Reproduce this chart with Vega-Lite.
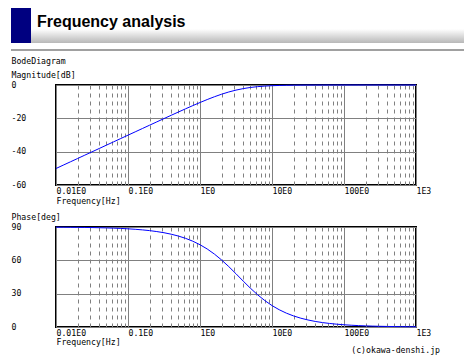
{
  "$schema": "https://vega.github.io/schema/vega-lite/v6.json",
  "padding": {"left": 10, "top": 8, "right": 0, "bottom": 0},
  "background": "white",
  "config": {
    "font": "DejaVu Sans Mono",
    "view": {"stroke": null},
    "axis": {
      "labelFont": "DejaVu Sans Mono", "labelFontSize": 8.2, "labelColor": "#000",
      "titleFont": "DejaVu Sans Mono", "titleFontSize": 8.2, "titleFontWeight": "normal", "titleColor": "#000",
      "ticks": false, "tickSize": 0, "domain": false,
      "gridColor": "#808080", "gridOpacity": 1, "gridWidth": 1
    },
    "title": {"font": "DejaVu Sans Mono", "fontSize": 8.2, "fontWeight": "normal", "color": "#000"}
  },
  "datasets": {
    "bode": [
      {"f": 0.01, "mag": -50.1, "phase": 89.84},
      {"f": 0.012589, "mag": -48.1, "phase": 89.79},
      {"f": 0.015849, "mag": -46.1, "phase": 89.74},
      {"f": 0.019953, "mag": -44.1, "phase": 89.67},
      {"f": 0.025119, "mag": -42.1, "phase": 89.59},
      {"f": 0.031623, "mag": -40.1, "phase": 89.48},
      {"f": 0.039811, "mag": -38.1, "phase": 89.35},
      {"f": 0.050119, "mag": -36.1, "phase": 89.18},
      {"f": 0.063096, "mag": -34.1, "phase": 88.97},
      {"f": 0.079433, "mag": -32.1, "phase": 88.71},
      {"f": 0.1, "mag": -30.1, "phase": 88.36},
      {"f": 0.12589, "mag": -28.11, "phase": 87.94},
      {"f": 0.15849, "mag": -26.11, "phase": 87.41},
      {"f": 0.19953, "mag": -24.12, "phase": 86.74},
      {"f": 0.25119, "mag": -22.13, "phase": 85.89},
      {"f": 0.31623, "mag": -20.14, "phase": 84.84},
      {"f": 0.39811, "mag": -18.17, "phase": 83.51},
      {"f": 0.50119, "mag": -16.21, "phase": 81.85},
      {"f": 0.63096, "mag": -14.27, "phase": 79.78},
      {"f": 0.79433, "mag": -12.36, "phase": 77.21},
      {"f": 1, "mag": -10.51, "phase": 74.05},
      {"f": 1.2589, "mag": -8.73, "phase": 70.22},
      {"f": 1.5849, "mag": -7.05, "phase": 65.63},
      {"f": 1.9953, "mag": -5.53, "phase": 60.31},
      {"f": 2.5119, "mag": -4.19, "phase": 54.33},
      {"f": 3.1623, "mag": -3.06, "phase": 47.9},
      {"f": 3.9811, "mag": -2.17, "phase": 41.32},
      {"f": 5.0119, "mag": -1.48, "phase": 34.93},
      {"f": 6.3096, "mag": -0.99, "phase": 29.01},
      {"f": 7.9433, "mag": -0.65, "phase": 23.78},
      {"f": 10, "mag": -0.42, "phase": 19.29},
      {"f": 12.589, "mag": -0.27, "phase": 15.54},
      {"f": 15.849, "mag": -0.17, "phase": 12.45},
      {"f": 19.953, "mag": -0.11, "phase": 9.95},
      {"f": 25.119, "mag": -0.07, "phase": 7.93},
      {"f": 31.623, "mag": -0.04, "phase": 6.32},
      {"f": 39.811, "mag": -0.03, "phase": 5.02},
      {"f": 50.119, "mag": -0.02, "phase": 3.99},
      {"f": 63.096, "mag": -0.01, "phase": 3.18},
      {"f": 79.433, "mag": -0.01, "phase": 2.52},
      {"f": 100, "mag": 0, "phase": 2.0},
      {"f": 125.89, "mag": 0, "phase": 1.59},
      {"f": 158.49, "mag": 0, "phase": 1.26},
      {"f": 199.53, "mag": 0, "phase": 1.0},
      {"f": 251.19, "mag": 0, "phase": 0.8},
      {"f": 316.23, "mag": 0, "phase": 0.63},
      {"f": 398.11, "mag": 0, "phase": 0.5},
      {"f": 501.19, "mag": 0, "phase": 0.4},
      {"f": 630.96, "mag": 0, "phase": 0.32},
      {"f": 794.33, "mag": 0, "phase": 0.25},
      {"f": 1000, "mag": 0, "phase": 0.2}
    ]
  },
  "vconcat": [
    {
      "vconcat": [
        {
          "hconcat": [
            {
              "width": 20, "height": 35,
              "data": {"values": [{"part": "block"}]},
              "mark": {"type": "rect", "color": "#000080"},
              "encoding": {}
            },
            {
              "width": 434, "height": 35,
              "data": {"values": [{"part": "band"}]},
              "mark": {"type": "rect", "fill": {"gradient": "linear", "x1": 0, "y1": 0, "x2": 0, "y2": 1,
                "stops": [{"offset": 0, "color": "#ffffff"}, {"offset": 0.6, "color": "#ffffff"}, {"offset": 1, "color": "#b8b8b8"}]}},
              "encoding": {},
              "title": {"text": "Frequency analysis", "orient": "top", "anchor": "start", "frame": "group",
                "dx": 6, "offset": -35, "baseline": "alphabetic",
                "font": "Liberation Sans", "fontSize": 16, "fontWeight": "bold", "color": "#000"}
            }
          ],
          "spacing": 0,
          "bounds": "flush"
        },
        {
          "width": 454, "height": 2,
          "data": {"values": [{"part": "rule"}]},
          "mark": {"type": "rect", "color": "#a0a0a0"},
          "encoding": {}
        }
      ],
      "spacing": 6
    },
    {
      "vconcat": [
        {
          "hconcat": [
            {
              "width": 45, "height": 100,
              "data": {"values": [{"part": "gap"}]},
              "mark": {"type": "rect", "opacity": 0},
              "encoding": {}
            },
            {
              "width": 360, "height": 100,
              "view": {"stroke": "#000", "strokeWidth": 2},
              "data": {"name": "bode"},
              "layer": [
                {
                  "mark": {"type": "line", "strokeOpacity": 0},
                  "encoding": {
                    "x": {"field": "f", "type": "quantitative", "scale": {"type": "log", "domain": [0.01, 1000]},
                      "axis": {"orient": "top", "values": [0.02,0.03,0.04,0.05,0.06,0.07,0.08,0.09,0.2,0.3,0.4,0.5,0.6,0.7,0.8,0.9,2,3,4,5,6,7,8,9,20,30,40,50,60,70,80,90,200,300,400,500,600,700,800,900],
                        "grid": true, "gridDash": [4, 4], "labels": false, "title": null}}
                  }
                },
                {
                  "mark": {"type": "line", "color": "#0000ff", "strokeWidth": 1},
                  "encoding": {
                    "x": {"field": "f", "type": "quantitative", "scale": {"type": "log", "domain": [0.01, 1000]},
                      "axis": {"values": [0.01, 0.1, 1, 10, 100, 1000], "grid": true,
                        "labelExpr": "datum.value > 500 ? '1E3' : datum.value > 50 ? '100E0' : datum.value > 5 ? '10E0' : datum.value > 0.5 ? '1E0' : datum.value > 0.05 ? '0.1E0' : '0.01E0'",
                        "labelAlign": "left", "labelBaseline": "top", "labelPadding": 2, "labelFlush": false, "labelOverlap": false,
                        "title": "Frequency[Hz]", "titleAnchor": "start", "titleAlign": "left", "titleBaseline": "middle", "titleX": 0, "titleY": 16}},
                    "y": {"field": "mag", "type": "quantitative", "scale": {"domain": [-60, 0]},
                      "axis": {"values": [0, -20, -40, -60], "grid": true, "labelExpr": "'' + datum.value",
                        "labelAlign": "left", "labelBaseline": "middle", "labelPadding": 45,
                        "title": ["BodeDiagram", "Magnitude[dB]"], "titleAngle": 0, "titleAlign": "left", "titleBaseline": "middle",
                        "titleLineHeight": 14.7, "titleX": -45, "titleY": -24}}
                  }
                }
              ],
              "resolve": {"axis": {"x": "independent"}}
            }
          ],
          "spacing": 0,
          "bounds": "flush"
        },
        {
          "hconcat": [
            {
              "width": 45, "height": 100,
              "data": {"values": [{"part": "gap"}]},
              "mark": {"type": "rect", "opacity": 0},
              "encoding": {}
            },
            {
              "width": 360, "height": 100,
              "view": {"stroke": "#000", "strokeWidth": 2},
              "data": {"name": "bode"},
              "title": {"text": "(c)okawa-denshi.jp", "orient": "bottom", "anchor": "end", "frame": "group", "dx": 24, "offset": 2, "baseline": "top"},
              "layer": [
                {
                  "mark": {"type": "line", "strokeOpacity": 0},
                  "encoding": {
                    "x": {"field": "f", "type": "quantitative", "scale": {"type": "log", "domain": [0.01, 1000]},
                      "axis": {"orient": "top", "values": [0.02,0.03,0.04,0.05,0.06,0.07,0.08,0.09,0.2,0.3,0.4,0.5,0.6,0.7,0.8,0.9,2,3,4,5,6,7,8,9,20,30,40,50,60,70,80,90,200,300,400,500,600,700,800,900],
                        "grid": true, "gridDash": [4, 4], "labels": false, "title": null}}
                  }
                },
                {
                  "mark": {"type": "line", "color": "#0000ff", "strokeWidth": 1},
                  "encoding": {
                    "x": {"field": "f", "type": "quantitative", "scale": {"type": "log", "domain": [0.01, 1000]},
                      "axis": {"values": [0.01, 0.1, 1, 10, 100, 1000], "grid": true,
                        "labelExpr": "datum.value > 500 ? '1E3' : datum.value > 50 ? '100E0' : datum.value > 5 ? '10E0' : datum.value > 0.5 ? '1E0' : datum.value > 0.05 ? '0.1E0' : '0.01E0'",
                        "labelAlign": "left", "labelBaseline": "top", "labelPadding": 2, "labelFlush": false, "labelOverlap": false,
                        "title": "Frequency[Hz]", "titleAnchor": "start", "titleAlign": "left", "titleBaseline": "middle", "titleX": 0, "titleY": 15}},
                    "y": {"field": "phase", "type": "quantitative", "scale": {"domain": [0, 90]},
                      "axis": {"values": [0, 30, 60, 90], "grid": true, "labelExpr": "'' + datum.value",
                        "labelAlign": "left", "labelBaseline": "middle", "labelPadding": 45,
                        "title": "Phase[deg]", "titleAngle": 0, "titleAlign": "left", "titleBaseline": "middle",
                        "titleX": -45, "titleY": -9.3}}
                  }
                }
              ],
              "resolve": {"axis": {"x": "independent"}}
            }
          ],
          "spacing": 0,
          "bounds": "flush"
        }
      ],
      "spacing": 5
    }
  ],
  "spacing": 4
}
